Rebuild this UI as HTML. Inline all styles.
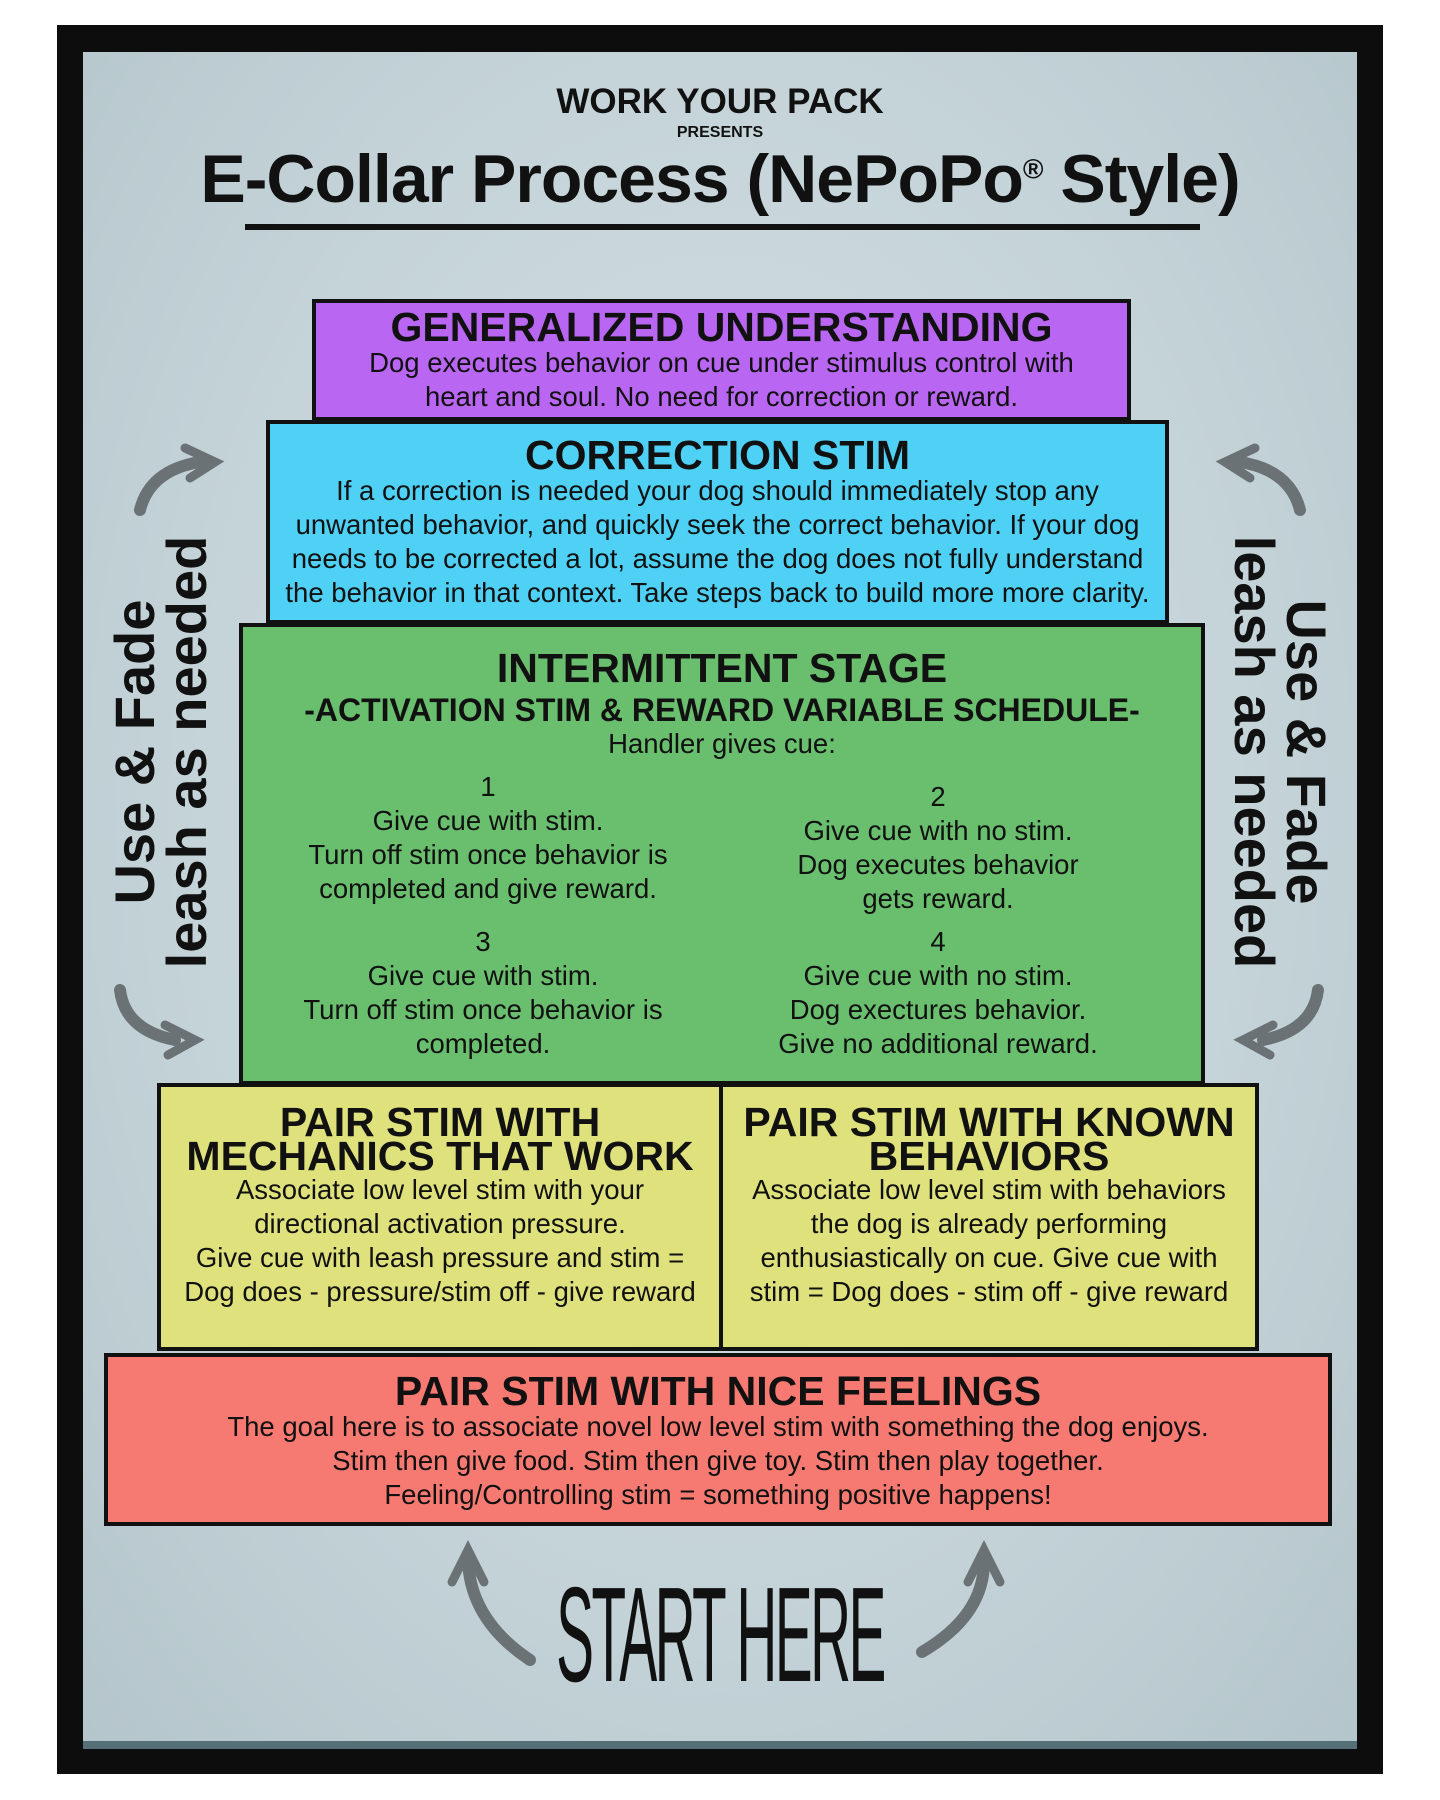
<!DOCTYPE html>
<html><head><meta charset="utf-8"><style>
*{margin:0;padding:0;box-sizing:border-box}
body{width:1440px;height:1800px;background:#fff;position:relative;overflow:hidden;font-family:"Liberation Sans",sans-serif;color:#111}
.frame{position:absolute;left:57px;top:25px;width:1326px;height:1749px;background:#0d0d0d}
.panel{position:absolute;left:83px;top:52px;width:1274px;height:1697px;background:radial-gradient(ellipse at 50% 45%,#d6e2e6 0%,#c4d3d8 60%,#b4c5cb 100%);border-bottom:8px solid #557077}
.b{position:absolute;border:4px solid #111;text-align:center;font-size:27.5px;line-height:34px;white-space:nowrap}
.h{font-weight:bold;font-size:41px;line-height:38px}
.abs{position:absolute;text-align:center;width:100%}
.side{position:absolute;font-weight:bold;font-size:56px;line-height:52px;text-align:center;white-space:nowrap}
</style></head><body>
<div class="frame"></div>
<div class="panel"></div>
<div class="abs" style="top:82px;font-weight:bold;font-size:35px">WORK YOUR PACK</div>
<div class="abs" style="top:124px;font-weight:bold;font-size:16px">PRESENTS</div>
<div class="abs" style="top:140px;font-weight:bold;font-size:68px;letter-spacing:-1px">E-Collar Process (NePoPo<sup style="font-size:28px">®</sup> Style)</div>
<div style="position:absolute;left:245px;top:224px;width:955px;height:6px;background:#111"></div>

<div class="b" style="left:312px;top:299px;width:819px;height:122px;background:#b966f2;padding-top:5px"><div class="h">GENERALIZED UNDERSTANDING</div>Dog executes behavior on cue under stimulus control with<br>heart and soul. No need for correction or reward.</div>
<div class="b" style="left:266px;top:420px;width:903px;height:204px;background:#4fd0f5;padding-top:12px"><div class="h">CORRECTION STIM</div>If a correction is needed your dog should immediately stop any<br>unwanted behavior, and quickly seek the correct behavior. If your dog<br>needs to be corrected a lot, assume the dog does not fully understand<br>the behavior in that context. Take steps back to build more more clarity.</div>
<div class="b" style="left:239px;top:623px;width:966px;height:462px;background:#6abf6e">
<div class="h" style="margin-top:22px">INTERMITTENT STAGE</div>
<div style="font-weight:bold;font-size:32px;margin-top:6px">-ACTIVATION STIM &amp; REWARD VARIABLE SCHEDULE-</div>
<div>Handler gives cue:</div>
<div style="position:absolute;left:20px;width:450px;top:143px">1<br>Give cue with stim.<br>Turn off stim once behavior is<br>completed and give reward.</div>
<div style="position:absolute;left:470px;width:450px;top:153px">2<br>Give cue with no stim.<br>Dog executes behavior<br>gets reward.</div>
<div style="position:absolute;left:15px;width:450px;top:298px">3<br>Give cue with stim.<br>Turn off stim once behavior is<br>completed.</div>
<div style="position:absolute;left:470px;width:450px;top:298px">4<br>Give cue with no stim.<br>Dog exectures behavior.<br>Give no additional reward.</div>
</div>
<div class="b" style="left:157px;top:1083px;width:566px;height:268px;background:#dfe27c;padding-top:18px"><div class="h" style="line-height:34px">PAIR STIM WITH<br>MECHANICS THAT WORK</div>Associate low level stim with your<br>directional activation pressure.<br>Give cue with leash pressure and stim =<br>Dog does - pressure/stim off - give reward</div>
<div class="b" style="left:719px;top:1083px;width:540px;height:268px;background:#dfe27c;padding-top:18px"><div class="h" style="line-height:34px">PAIR STIM WITH KNOWN<br>BEHAVIORS</div>Associate low level stim with behaviors<br>the dog is already performing<br>enthusiastically on cue. Give cue with<br>stim = Dog does - stim off - give reward</div>
<div class="b" style="left:104px;top:1353px;width:1228px;height:173px;background:#f77a72;padding-top:15px"><div class="h">PAIR STIM WITH NICE FEELINGS</div>The goal here is to associate novel low level stim with something the dog enjoys.<br>Stim then give food. Stim then give toy. Stim then play together.<br>Feeling/Controlling stim = something positive happens!</div>

<div class="side" style="left:161px;top:752px;transform:translate(-50%,-50%) rotate(-90deg)">Use &amp; Fade<br>leash as needed</div>
<div class="side" style="left:1280px;top:752px;transform:translate(-50%,-50%) rotate(90deg)">Use &amp; Fade<br>leash as needed</div>

<div class="abs" style="top:1570px;font-size:135px;font-family:'Liberation Sans Narrow','Liberation Sans',sans-serif;transform:scaleX(0.42);letter-spacing:-6px;line-height:130px">START HERE</div>

<svg width="1440" height="1800" style="position:absolute;left:0;top:0" fill="none" stroke="#6a7275" stroke-width="12" stroke-linecap="round">
<path d="M140 510 Q150 470 200 462"/><path d="M185 448 L215 462 L190 478" stroke-width="9"/>
<path d="M120 990 Q125 1030 175 1040"/><path d="M165 1025 L195 1040 L168 1055" stroke-width="9"/>
<path d="M1300 510 Q1290 470 1240 462"/><path d="M1255 448 L1225 462 L1250 478" stroke-width="9"/>
<path d="M1318 990 Q1313 1030 1263 1040"/><path d="M1273 1025 L1243 1040 L1270 1055" stroke-width="9"/>
<path d="M530 1660 Q470 1620 468 1560"/><path d="M452 1582 L468 1550 L484 1582" stroke-width="9"/>
<path d="M922 1652 Q985 1615 984 1560"/><path d="M968 1582 L984 1550 L1000 1582" stroke-width="9"/>
</svg>
</body></html>
